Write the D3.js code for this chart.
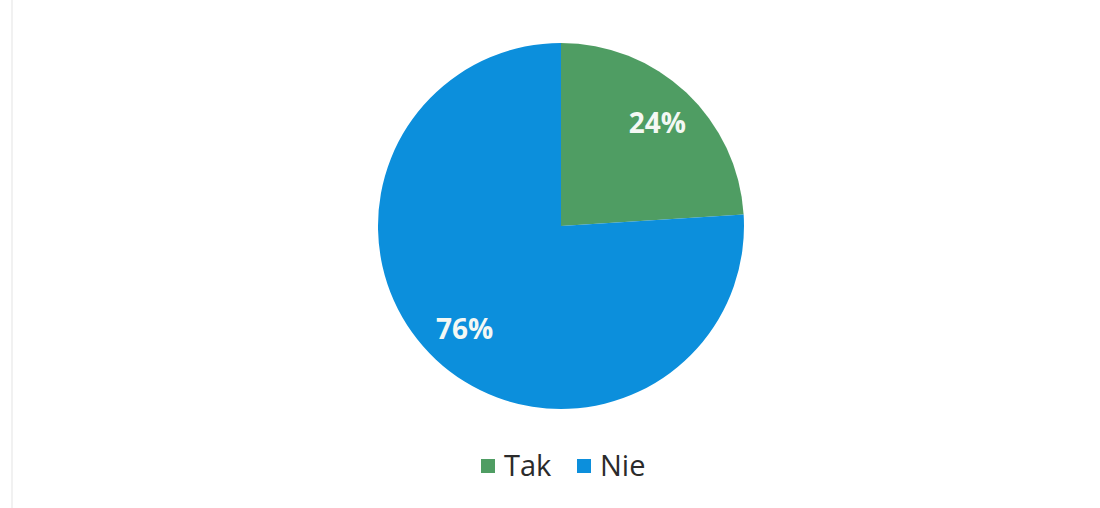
<!DOCTYPE html>
<html>
<head>
<meta charset="utf-8">
<script src="https://cdn.jsdelivr.net/npm/d3@7"></script>
<style>
  html, body { margin: 0; padding: 0; background: #ffffff; }
  svg { display: block; }
</style>
</head>
<body>
<svg id="chart" width="1100" height="508"></svg>
<script>
// Answer categories and their shares (percent)
const categories = ["Tak", "Nie"];
const values = [24, 76];
const colors = ["#4f9d63", "#0c8fdc"];

const svg = d3.select("#chart");
const W = 1100, H = 508;

// faint frame on the left edge
svg.append("line")
  .attr("x1", 12).attr("x2", 12).attr("y1", 0).attr("y2", H)
  .attr("stroke", "#ececec").attr("stroke-width", 1.5);

const cx = 561, cy = 226, R = 183;

const pie = d3.pie().sort(null).value(d => d.value);
const arcs = pie(categories.map((c, i) => ({ cat: c, value: values[i] })));
const arc = d3.arc().innerRadius(0).outerRadius(R);
const labelArc = d3.arc().innerRadius(R * 0.77).outerRadius(R * 0.77);

const color = d3.scaleOrdinal().domain(categories).range(colors);

const g = svg.append("g").attr("transform", `translate(${cx},${cy})`);

g.selectAll("path.slice")
  .data(arcs)
  .join("path")
  .attr("class", "slice")
  .attr("d", arc)
  .attr("fill", d => color(d.data.cat));

g.selectAll("text.lbl")
  .data(arcs)
  .join("text")
  .attr("class", "lbl")
  .attr("transform", d => `translate(${labelArc.centroid(d)})`)
  .attr("text-anchor", "middle")
  .attr("dy", "0.36em")
  .attr("font-family", "'Open Sans', sans-serif")
  .attr("font-weight", "bold")
  .attr("font-size", 28)
  .attr("fill", "#f4f8f4")
  .text(d => d.data.value + "%");

// Legend
const legend = svg.append("g").attr("transform", "translate(481,466)");
const items = [{ x: 0 }, { x: 96 }];
categories.forEach((c, i) => {
  const it = legend.append("g").attr("transform", `translate(${items[i].x},0)`);
  it.append("rect")
    .attr("x", 0).attr("y", -7).attr("width", 14).attr("height", 14)
    .attr("fill", color(c));
  it.append("text")
    .attr("x", 23).attr("y", 0).attr("dy", "0.36em")
    .attr("font-family", "'Open Sans', sans-serif")
    .attr("font-size", 29)
    .attr("fill", "#2b2b2b")
    .text(c);
});
</script>
</body>
</html>
